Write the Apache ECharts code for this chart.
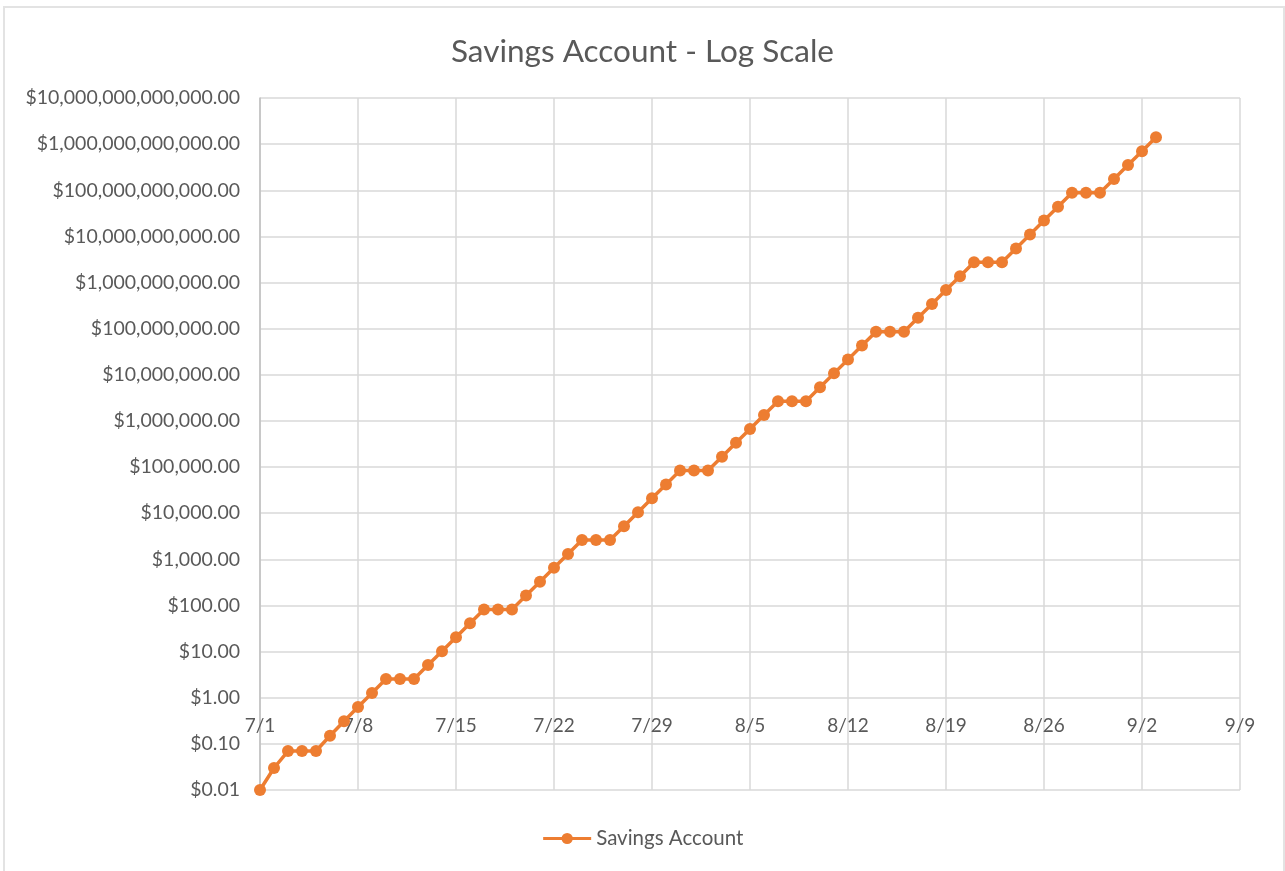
<!DOCTYPE html>
<html>
<head>
<meta charset="utf-8">
<title>Savings Account - Log Scale</title>
<script src="https://cdn.jsdelivr.net/npm/echarts@6/dist/echarts.min.js"></script>
<style>
    html, body {
        margin: 0;
        padding: 0;
        background: #fff;
    }
    #frame {
        position: absolute;
        left: 3px;
        top: 6px;
        width: 1278px;
        height: 880px;
        border: 2px solid #e3e3e3;
    }
    #chart {
        position: absolute;
        left: 0;
        top: 0;
        width: 1285px;
        height: 871px;
    }
</style>
</head>
<body>
<div id="frame"></div>
<div id="chart"></div>
<script>
    // dates of each point (2020, flat on weekends)
    const dates = [
        '7/1', '7/2', '7/3', '7/4', '7/5', '7/6', '7/7', '7/8', '7/9', '7/10',
        '7/11', '7/12', '7/13', '7/14', '7/15', '7/16', '7/17', '7/18', '7/19', '7/20',
        '7/21', '7/22', '7/23', '7/24', '7/25', '7/26', '7/27', '7/28', '7/29', '7/30',
        '7/31', '8/1', '8/2', '8/3', '8/4', '8/5', '8/6', '8/7', '8/8', '8/9',
        '8/10', '8/11', '8/12', '8/13', '8/14', '8/15', '8/16', '8/17', '8/18', '8/19',
        '8/20', '8/21', '8/22', '8/23', '8/24', '8/25', '8/26', '8/27', '8/28', '8/29',
        '8/30', '8/31', '9/1', '9/2', '9/3'
    ]
    const savings = [
        0.01, 0.03, 0.07, 0.07, 0.07, 0.15, 0.31, 0.63, 1.27, 2.55,
        2.55, 2.55, 5.11, 10.23, 20.47, 40.95, 81.91, 81.91, 81.91, 163.83,
        327.67, 655.35, 1310.71, 2621.43, 2621.43, 2621.43, 5242.87, 10485.75, 20971.51, 41943.03,
        83886.07, 83886.07, 83886.07, 167772.15, 335544.31, 671088.63, 1342177.27, 2684354.55, 2684354.55, 2684354.55,
        5368709.11, 10737418.23, 21474836.47, 42949672.95, 85899345.91, 85899345.91, 85899345.91, 171798691.83, 343597383.67, 687194767.35,
        1374389534.71, 2748779069.43, 2748779069.43, 2748779069.43, 5497558138.87, 10995116277.75, 21990232555.51, 43980465111.03, 87960930222.07, 87960930222.07,
        87960930222.07, 175921860444.15, 351843720888.31, 703687441776.63, 1407374883553.27
    ]
    const xTickLabels = ['7/1', '7/8', '7/15', '7/22', '7/29', '8/5', '8/12', '8/19', '8/26', '9/2', '9/9']

    // day number counted from 7/1
    function dayIndex (md) {
        let p = md.split('/')
        let d = Date.UTC(2020, parseInt(p[0]) - 1, parseInt(p[1]))
        return Math.round((d - Date.UTC(2020, 6, 1)) / 86400000)
    }

    let points = dates.map((d, i) => [dayIndex(d), savings[i]])

    let myChart = echarts.init(document.getElementById('chart'))
    let font = 'Lato, "Open Sans", sans-serif'
    let gray = '#595959'
    let option = {
        animation: false,
        title: {
            text: 'Savings Account - Log Scale',
            left: 'center',
            top: 31,
            textStyle: {
                fontFamily: font,
                fontSize: 31.5,
                fontWeight: 'normal',
                color: gray
            }
        },
        legend: {
            bottom: 17,
            left: 'center',
            itemWidth: 48,
            itemHeight: 14,
            itemGap: 6,
            lineStyle: {width: 3},
            textStyle: {
                fontFamily: font,
                fontSize: 20.5,
                color: gray
            },
            data: ['Savings Account']
        },
        grid: {
            left: 260,
            right: 45,
            top: 98,
            bottom: 81
        },
        xAxis: {
            type: 'value',
            min: 0,
            max: 70,
            interval: 7,
            position: 'bottom',
            offset: -92, // axis crosses at $1.00
            axisLine: {show: false},
            axisTick: {show: false},
            axisLabel: {
                margin: 18,
                fontFamily: font,
                fontSize: 19,
                color: gray,
                formatter: function (v) {
                    return xTickLabels[Math.round(v / 7)]
                }
            },
            splitLine: {
                show: true,
                lineStyle: {color: '#d9d9d9', width: 1.5}
            }
        },
        yAxis: {
            type: 'log',
            logBase: 10,
            min: 0.01,
            max: 1e13,
            interval: 1,
            axisLine: {show: true, lineStyle: {color: '#bfbfbf', width: 1.5}},
            axisTick: {show: false},
            axisLabel: {
                margin: 20,
                fontFamily: font,
                fontSize: 19.5,
                color: gray,
                formatter: function (v) {
                    return '$' + v.toLocaleString('en-US', {minimumFractionDigits: 2, maximumFractionDigits: 2})
                }
            },
            splitLine: {
                show: true,
                lineStyle: {color: '#d9d9d9', width: 1.5}
            }
        },
        series: [
            {
                name: 'Savings Account',
                type: 'line',
                color: '#ed7d31',
                symbol: 'circle',
                symbolSize: 12,
                lineStyle: {width: 3.5},
                data: points
            }
        ]
    }
    myChart.setOption(option)
</script>
</body>
</html>
